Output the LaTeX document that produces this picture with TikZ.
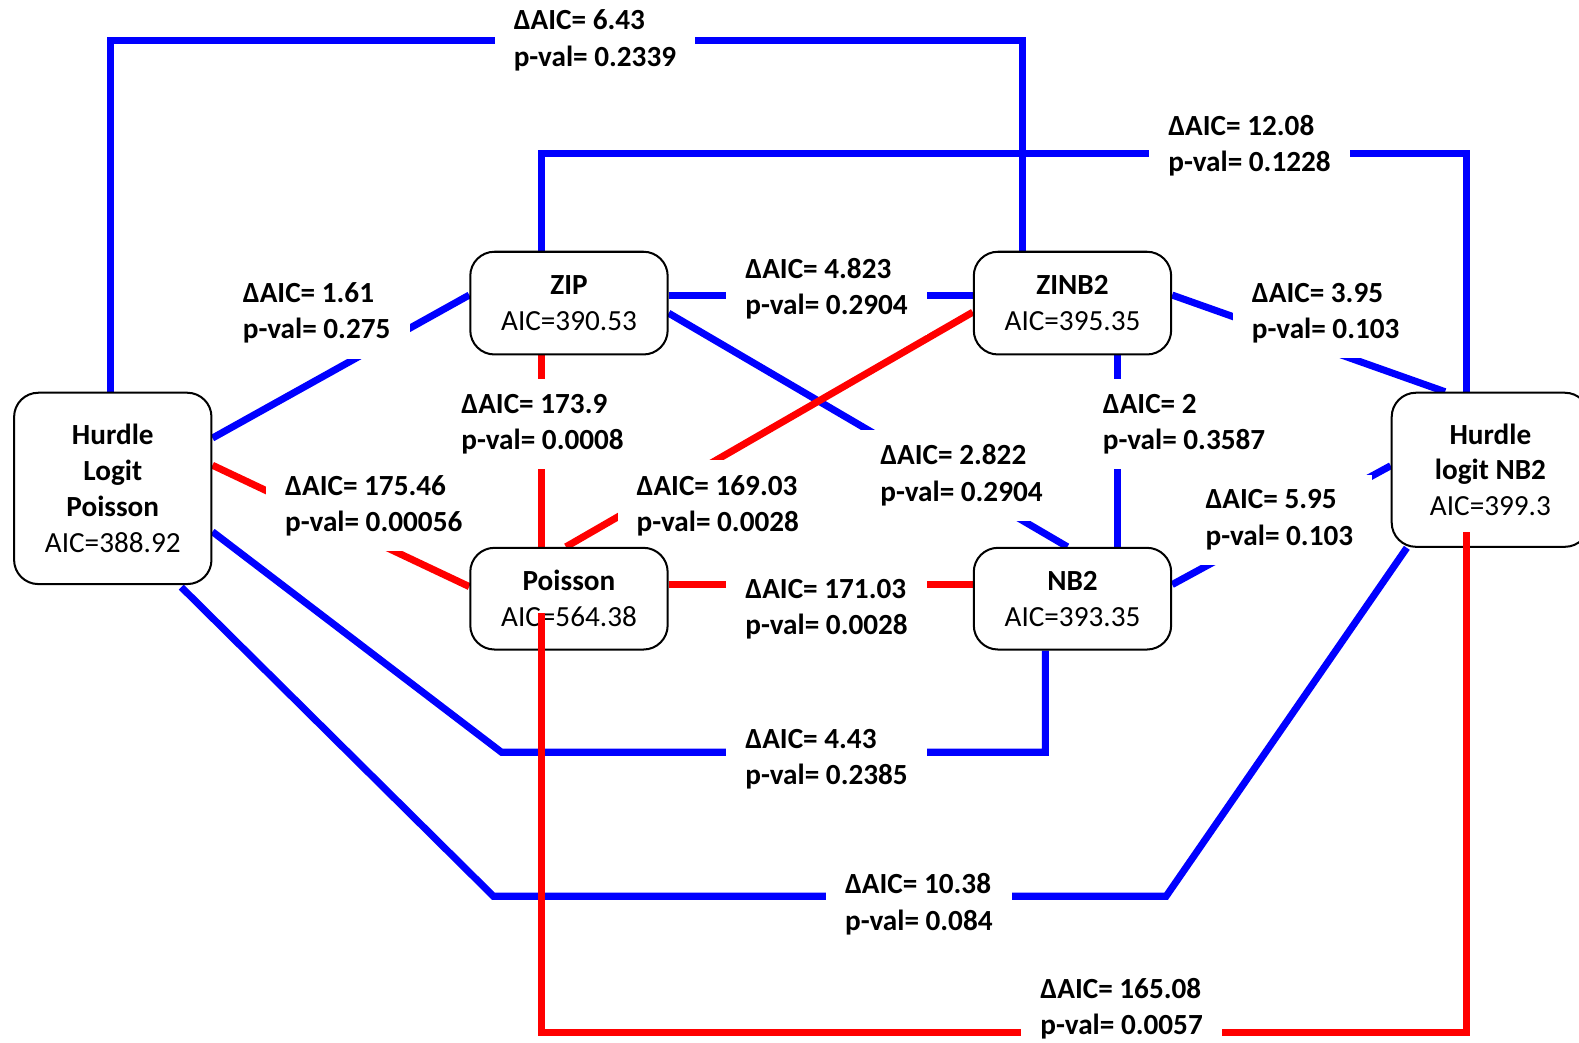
\documentclass[tikz,border=0pt]{standalone}
\usepackage{fontspec}
\setmainfont{Carlito}
\usetikzlibrary{calc}
\pgfdeclarelayer{lines}
\pgfdeclarelayer{labels}
\pgfdeclarelayer{front}
\pgfsetlayers{lines,labels,main,front}
\begin{document}
\begin{tikzpicture}[x=1pt,y=-1pt,
  model/.style={draw=black, line width=2pt, rounded corners=24pt, fill=white, align=center,
    font=\fontsize{29}{35.5}\selectfont, inner sep=0pt},
  lab/.style={fill=white, inner xsep=19pt, inner ysep=15pt, align=left, anchor=west,
    font=\fontsize{29}{36}\selectfont\bfseries},
  bl/.style={draw={rgb,255:red,0;green,0;blue,255}, line width=7pt},
  rd/.style={draw={rgb,255:red,255;green,0;blue,0}, line width=7pt}]
\useasboundingbox (0,0) rectangle (1568,1035);
\clip (0,0) rectangle (1568,1035);
% models
\node[model, minimum width=196pt, minimum height=190pt] (hlp) at (112,485) {\textbf{Hurdle}\\\textbf{Logit}\\\textbf{Poisson}\\AIC=388.92};
\node[model, minimum width=196pt, minimum height=102pt] (zip) at (565,301) {\textbf{ZIP}\\AIC=390.53};
\node[model, minimum width=196pt, minimum height=102pt] (zinb) at (1065,301) {\textbf{ZINB2}\\AIC=395.35};
\node[model, minimum width=196pt, minimum height=101pt] (poi) at (565,594.5) {\textbf{Poisson}\\AIC=564.38};
\node[model, minimum width=196pt, minimum height=101pt] (nb) at (1065,594.5) {\textbf{NB2}\\AIC=393.35};
\node[model, minimum width=196pt, minimum height=153pt] (hnb) at (1480,466.5) {\textbf{Hurdle}\\\textbf{logit NB2}\\AIC=399.3};
% connectors
\begin{pgfonlayer}{lines}
\draw[bl] ($(hlp.north)+(-2,0)$) -- (110,40) -| ($(zinb.north)+(-50,0)$);
\draw[bl] ($(zip.north)+(-27,0)$) -- (538,152) -| ($(hnb.north)+(-24,0)$);
\draw[bl] ($(hlp.east)+(0,-50)$) -- ($(zip.west)+(0,-8)$);
\draw[bl] ($(zip.east)+(0,-8)$) -- ($(zinb.west)+(0,-8)$);
\draw[bl] ($(zinb.east)+(0,-8)$) -- ($(hnb.north)+(-45,0)$);
\draw[rd] ($(zip.south)+(-27,0)$) -- ($(poi.north)+(-27,0)$);
\draw[bl] ($(zip.east)+(0,10)$) -- ($(nb.north)+(-5,0)$);
\draw[rd] ($(zinb.west)+(0,9)$) -- ($(poi.north)+(-3,0)$);
\draw[bl] ($(zinb.south)+(45,0)$) -- ($(nb.north)+(45,0)$);
\draw[rd] ($(hlp.east)+(0,-23)$) -- ($(poi.west)+(0,-12)$);
\draw[rd] ($(poi.east)+(0,-14)$) -- ($(nb.west)+(0,-14)$);
\draw[bl] ($(nb.east)+(0,-14)$) -- ($(hnb.west)+(0,-4)$);
\draw[bl] ($(hlp.east)+(0,43)$) -- (498,747) -| ($(nb.south)+(-27,0)$);
\draw[bl] ($(hlp.south)+(68,2)$) -- (490,890) -- (1158,890) -- ($(hnb.south)+(-83,0)$);
\end{pgfonlayer}
% labels
\begin{pgfonlayer}{labels}
\node[lab] (l1) at (491,40) {ΔAIC= 6.43\\p-val= 0.2339};
\node[lab] (l2) at (1141,145) {ΔAIC= 12.08\\p-val= 0.1228};
\node[lab] (l3) at (222,311) {ΔAIC= 1.61\\p-val= 0.275};
\node[lab] (l4) at (721,287) {ΔAIC= 4.823\\p-val= 0.2904};
\node[lab] (l5) at (1224,311) {ΔAIC= 3.95\\p-val= 0.103};
\node[lab] (l6) at (439,421) {ΔAIC= 173.9\\p-val= 0.0008};
\node[lab] (l7) at (613,502) {ΔAIC= 169.03\\p-val= 0.0028};
\node[lab] (l8) at (855,472) {ΔAIC= 2.822\\p-val= 0.2904};
\node[lab] (l9) at (1076,421) {ΔAIC= 2\\p-val= 0.3587};
\node[lab] (l10) at (264,502) {ΔAIC= 175.46\\p-val= 0.00056};
\node[lab] (l11) at (721,605) {ΔAIC= 171.03\\p-val= 0.0028};
\node[lab] (l12) at (1178,516) {ΔAIC= 5.95\\p-val= 0.103};
\node[lab] (l13) at (721,754) {ΔAIC= 4.43\\p-val= 0.2385};
\node[lab] (l14) at (820,898) {ΔAIC= 10.38\\p-val= 0.084};
\end{pgfonlayer}
% Poisson -- Hurdle logit NB2 (drawn over the boxes)
\begin{pgfonlayer}{front}
\draw[rd] ($(poi.center)+(-27,14)$) -- (538,1025) -| ($(hnb.south)+(-24,-16)$);
\node[lab] (l15) at (1014,1002) {ΔAIC= 165.08\\p-val= 0.0057};
\end{pgfonlayer}
\end{tikzpicture}
\end{document}
